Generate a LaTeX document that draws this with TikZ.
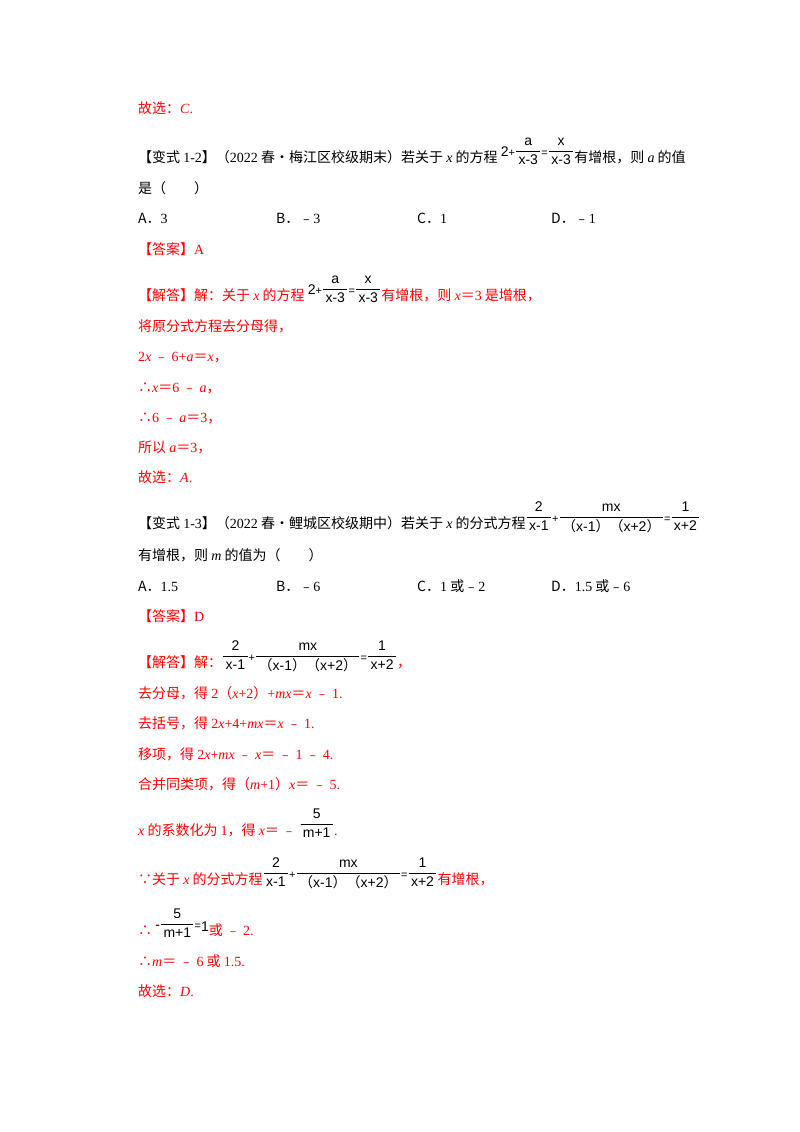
\documentclass[tikz,border=0pt]{standalone}
\usepackage{amsmath}
\usepackage{fontspec}
\setmainfont{Noto Sans CJK SC}
\newfontfamily\cjk{Noto Sans CJK SC}
\newfontfamily\tmr{Liberation Serif}
\newfontfamily\fs{Liberation Sans}
\newcommand\R[1]{{\tmr #1}}
\newcommand\I[1]{{\tmr\itshape #1}}
\newcommand\F[2]{\raisebox{7pt}{$\genfrac{}{}{0.5pt}{0}{\hbox{\fs\fontsize{14}{14}\selectfont\,#1\,}}{\hbox{\fs\fontsize{14}{14}\selectfont\,#2\,}}$}}
\newcommand\Fb[2]{{\color{black}\F{#1}{#2}}}
\newcommand\op{{\fs\fontsize{11}{11}\selectfont\raisebox{6pt}{+}}}
\newcommand\eq{{\fs\fontsize{11}{11}\selectfont\raisebox{6pt}{=}}}
\newcommand\PP{{\cjk（}x-1{\cjk）（}x+2{\cjk）}}
\begin{document}
\begin{tikzpicture}[x=1pt,y=-1pt,
  t/.style={anchor=base west,inner sep=0pt,font=\fontsize{14}{16}\selectfont},
  r/.style={t,text=red}]
\useasboundingbox[fill=white] (0,0) rectangle (800,1132);
\node[r] (l1) at (138,113) {故选：\I{C}\R{.}};
\node[t] (l2) at (138,162) {【变式 \R{1-2}】（\R{2022} 春•梅江区校级期末）若关于 \I{x} 的方程 {\fs\fontsize{14}{14}\selectfont\raisebox{6pt}{2}}\op\F{a}{x-3}\eq\F{x}{x-3}有增根，则 \I{a} 的值};
\node[t] (l3) at (138,193) {是（\quad\quad）};
\node[t] (oa) at (138,223) {A．\R{3}};
\node[t] (ob) at (276,223) {B．﹣\R{3}};
\node[t] (oc) at (417,223) {C．\R{1}};
\node[t] (od) at (551,223) {D．﹣\R{1}};
\node[r] (ans1) at (138,254) {【答案】\R{A}};
\node[r] (s1) at (138,300) {【解答】解：关于 \I{x} 的方程 {\color{black}{\fs\fontsize{14}{14}\selectfont\raisebox{6pt}{2}}\op\F{a}{x-3}\eq\F{x}{x-3}}有增根，则 \I{x}＝\R{3} 是增根，};
\node[r] (s2) at (138,331) {将原分式方程去分母得，};
\node[r] (s3) at (138,361) {\R{2}\I{x} ﹣ \R{6+}\I{a}＝\I{x}，};
\node[r] (s4) at (138,392) {∴\I{x}＝\R{6} ﹣ \I{a}，};
\node[r] (s5) at (138,422) {∴\R{6} ﹣ \I{a}＝\R{3}，};
\node[r] (s6) at (138,452) {所以 \I{a}＝\R{3}，};
\node[r] (s7) at (138,482) {故选：\I{A}\R{.}};
\node[t] (m1) at (138,528) {【变式 \R{1-3}】（\R{2022} 春•鲤城区校级期中）若关于 \I{x} 的分式方程\F{2}{x-1}\op\F{mx}{\PP}\eq\F{1}{x+2}};
\node[t] (m2) at (138,560) {有增根，则 \I{m} 的值为（\quad\quad）};
\node[t] (pa) at (138,591) {A．\R{1.5}};
\node[t] (pb) at (276,591) {B．﹣\R{6}};
\node[t] (pc) at (417,591) {C．\R{1} 或﹣\R{2}};
\node[t] (pd) at (551,591) {D．\R{1.5} 或﹣\R{6}};
\node[r] (ans2) at (138,621) {【答案】\R{D}};
\node[r] (u1) at (138,667) {【解答】解：{\color{black}\F{2}{x-1}\op\F{mx}{\PP}\eq\F{1}{x+2}}，};
\node[r] (u2) at (138,698) {去分母，得 \R{2}（\I{x}\R{+2}）\R{+}\I{mx}＝\I{x} ﹣ \R{1.}};
\node[r] (u3) at (138,728) {去括号，得 \R{2}\I{x}\R{+4+}\I{mx}＝\I{x} ﹣ \R{1.}};
\node[r] (u4) at (138,759) {移项，得 \R{2}\I{x}\R{+}\I{mx} ﹣ \I{x}＝ ﹣ \R{1} ﹣ \R{4.}};
\node[r] (u5) at (138,789) {合并同类项，得（\I{m}\R{+1}）\I{x}＝ ﹣ \R{5.}};
\node[r] (u6) at (138,835) {\I{x} 的系数化为 \R{1}，得 \I{x}＝ ﹣ {\color{black}\F{5}{m+1}}\R{.}};
\node[r] (u7) at (138,884) {∵关于 \I{x} 的分式方程{\color{black}\F{2}{x-1}\op\F{mx}{\PP}\eq\F{1}{x+2}}有增根，};
\node[r] (u8) at (138,935) {∴ {\color{black}{\fs\raisebox{6pt}{-}}\F{5}{m+1}\eq{\fs\raisebox{4pt}{1}}}或 ﹣ \R{2.}};
\node[r] (u9) at (138,966) {∴\I{m}＝ ﹣ \R{6} 或 \R{1.5.}};
\node[r] (u10) at (138,996) {故选：\I{D}\R{.}};
\end{tikzpicture}
\end{document}
